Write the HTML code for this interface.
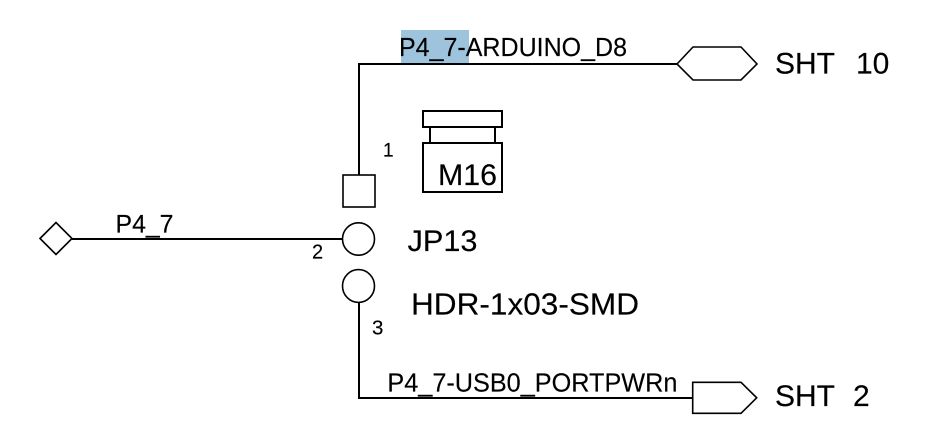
<!DOCTYPE html>
<html>
<head>
<meta charset="utf-8">
<style>
  html, body { margin: 0; padding: 0; background: #ffffff; }
  body { width: 941px; height: 447px; overflow: hidden; }
  svg { display: block; }
  text { font-family: "Liberation Sans", Arial, sans-serif; fill: #000; stroke: #000; stroke-width: 0.15; }
</style>
</head>
<body>
<svg width="941" height="447" viewBox="0 0 941 447" xmlns="http://www.w3.org/2000/svg">
  <rect x="0" y="0" width="941" height="447" fill="#ffffff"/>

  <!-- highlight -->
  <rect x="401" y="30" width="68" height="33" fill="#9ec3dd"/>

  <!-- top net -->
  <polyline points="359,175 359,64 677,64" fill="none" stroke="#000" stroke-width="2"/>
  <text x="399" y="56" font-size="26" textLength="228" lengthAdjust="spacingAndGlyphs">P4_7-ARDUINO_D8</text>

  <!-- hexagon off-sheet connector -->
  <polygon points="677,64 693,47 741,47 757,64 741,80 693,80" fill="none" stroke="#000" stroke-width="1.6"/>
  <text x="775" y="73.5" font-size="30" textLength="60" lengthAdjust="spacingAndGlyphs">SHT</text>
  <text x="856" y="73.5" font-size="30">10</text>

  <!-- M16 symbol -->
  <rect x="423" y="111" width="79" height="16" fill="none" stroke="#000" stroke-width="2"/>
  <line x1="430" y1="127" x2="430" y2="143" stroke="#000" stroke-width="2"/>
  <line x1="495" y1="127" x2="495" y2="143" stroke="#000" stroke-width="2"/>
  <rect x="423" y="143" width="79" height="49" fill="none" stroke="#000" stroke-width="2"/>
  <text x="438" y="185" font-size="30" textLength="59" lengthAdjust="spacingAndGlyphs">M16</text>

  <!-- pin 1 -->
  <text x="383" y="156.7" font-size="19">1</text>
  <rect x="343" y="175" width="32" height="32" fill="none" stroke="#000" stroke-width="1.6"/>

  <!-- pin 2 -->
  <polygon points="40,238.5 56,222.5 72,238.5 56,254.5" fill="none" stroke="#000" stroke-width="1.6"/>
  <line x1="72" y1="239" x2="342.5" y2="239" stroke="#000" stroke-width="2"/>
  <text x="115.5" y="232.3" font-size="25" textLength="58" lengthAdjust="spacingAndGlyphs">P4_7</text>
  <text x="312" y="258.3" font-size="20">2</text>
  <ellipse cx="358.5" cy="239" rx="16" ry="16.2" fill="none" stroke="#000" stroke-width="1.6"/>
  <text x="407.5" y="251" font-size="30" textLength="70" lengthAdjust="spacingAndGlyphs">JP13</text>

  <!-- pin 3 -->
  <ellipse cx="358.5" cy="286" rx="16" ry="16.4" fill="none" stroke="#000" stroke-width="1.6"/>
  <text x="411" y="314.3" font-size="30.5" textLength="228" lengthAdjust="spacingAndGlyphs">HDR-1x03-SMD</text>
  <text x="372" y="334.3" font-size="20.5">3</text>
  <polyline points="359,302.4 359,398 692.7,398" fill="none" stroke="#000" stroke-width="2"/>
  <text x="387.4" y="391.7" font-size="25.5" textLength="290" lengthAdjust="spacingAndGlyphs">P4_7-USB0_PORTPWRn</text>

  <!-- pentagon off-sheet connector -->
  <polygon points="692.7,382.3 741,382.3 756.7,397.8 741,413.3 692.7,413.3" fill="none" stroke="#000" stroke-width="1.6"/>
  <text x="775" y="406" font-size="30" textLength="60" lengthAdjust="spacingAndGlyphs">SHT</text>
  <text x="853" y="406" font-size="30">2</text>
</svg>
</body>
</html>
